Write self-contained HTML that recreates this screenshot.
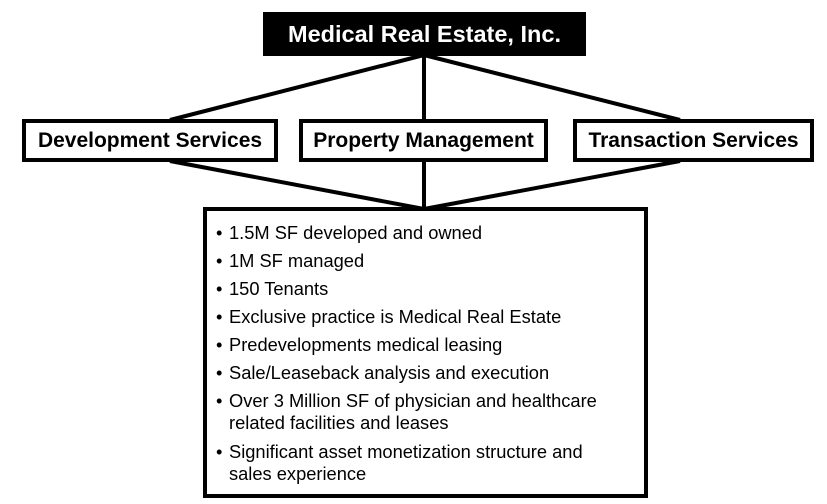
<!DOCTYPE html>
<html><head><style>
body{margin:0;width:827px;height:504px;background:#fff;overflow:hidden;position:relative;font-family:"Liberation Sans",Arial,sans-serif}
.b{position:absolute;box-sizing:border-box;border:4px solid #000;background:#fff;display:flex;align-items:center;justify-content:center;font-weight:bold;font-size:21px;white-space:nowrap}
.t{position:absolute;left:216px;font-size:18.3px;line-height:22px;white-space:nowrap}
.t span{display:inline-block;width:13px}
</style></head><body>
<svg width="827" height="504" style="position:absolute;left:0;top:0">
<g stroke="#000" stroke-width="4" fill="none">
<line x1="424" y1="55" x2="170" y2="120"/>
<line x1="424" y1="55" x2="424" y2="120"/>
<line x1="424" y1="55" x2="680" y2="120"/>
<line x1="170" y1="161" x2="424" y2="209"/>
<line x1="424" y1="161" x2="424" y2="209"/>
<line x1="680" y1="161" x2="424" y2="209"/>
</g></svg>
<div class="b" style="left:263px;top:12px;width:323px;height:44px;background:#000;color:#fff;font-size:23.5px;border:none">Medical Real Estate, Inc.</div>
<div class="b" style="left:22px;top:119px;width:256px;height:43px">Development Services</div>
<div class="b" style="left:299px;top:119px;width:249px;height:43px">Property Management</div>
<div class="b" style="left:573px;top:119px;width:241px;height:43px">Transaction Services</div>
<div class="b" style="left:203px;top:207px;width:445px;height:291px"></div>
<div class="t" style="top:222px"><span>•</span>1.5M SF developed and owned</div>
<div class="t" style="top:250px"><span>•</span>1M SF managed</div>
<div class="t" style="top:278px"><span>•</span>150 Tenants</div>
<div class="t" style="top:306px"><span>•</span>Exclusive practice is Medical Real Estate</div>
<div class="t" style="top:334px"><span>•</span>Predevelopments medical leasing</div>
<div class="t" style="top:362px"><span>•</span>Sale/Leaseback analysis and execution</div>
<div class="t" style="top:390px"><span>•</span>Over 3 Million SF of physician and healthcare<br><span></span>related facilities and leases</div>
<div class="t" style="top:441px"><span>•</span>Significant asset monetization structure and<br><span></span>sales experience</div>
</body></html>
